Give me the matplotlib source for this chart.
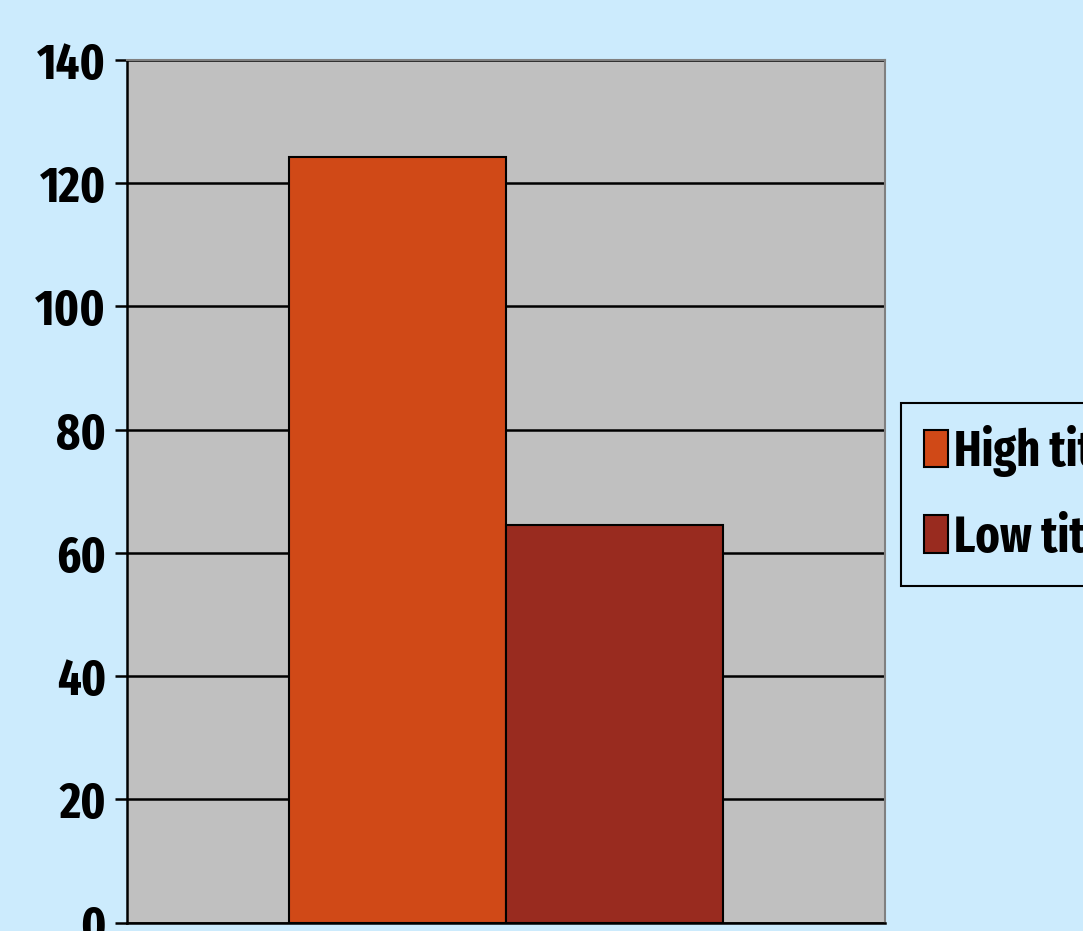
import numpy as np
import matplotlib.pyplot as plt

series = ['High titre', 'Low titre']
values = [124.2, 64.5]
colors = ['#D04917', '#992B1F']
yticks = [0, 20, 40, 60, 80, 100, 120, 140]

plt.rcParams['font.family'] = ['Fira Sans Extra Condensed', 'DejaVu Sans']

bg = '#CCEBFD'
fig = plt.figure(figsize=(10.83, 9.31), dpi=100, facecolor=bg)
ax = fig.add_axes([127/1083, 1 - 922.5/931, 758/1083, 862.5/931])
ax.set_facecolor('#C0C0C0')

w = 1 / 3.5  # excel-style gap width 150%
x = np.array([-w/2, w/2])
for xi, v, c, s in zip(x, values, colors, series):
    ax.bar(xi, v, width=w, color=c, edgecolor='black', linewidth=1.5,
           label=s, zorder=3)

ax.set_xlim(-0.5, 0.5)
ax.set_ylim(0, 140)
ax.set_yticks(yticks)
ax.set_xticks([])
ax.grid(axis='y', color='black', linewidth=1.8, zorder=1)
ax.set_axisbelow(True)

ax.tick_params(axis='y', length=9, width=1.8, pad=6, labelsize=36)
for lab in ax.get_yticklabels():
    lab.set_fontweight('bold')

ax.spines['left'].set_linewidth(1.8)
ax.spines['bottom'].set_linewidth(1.8)
ax.spines['top'].set_color('#808080')
ax.spines['right'].set_color('#808080')
ax.spines['top'].set_linewidth(1.5)
ax.spines['right'].set_linewidth(1.5)

leg = fig.legend(loc='upper left', bbox_to_anchor=(901/1083, 1 - 403/931),
                 borderaxespad=0, prop={'size': 36, 'weight': 'bold'},
                 frameon=True, fancybox=False, edgecolor='black',
                 facecolor=bg, framealpha=1, handlelength=0.48,
                 handleheight=0.78, handletextpad=0.12, labelspacing=0.72,
                 borderpad=0.45)
leg.get_frame().set_linewidth(1.5)

fig.savefig('out.png', dpi=100, facecolor=fig.get_facecolor())
